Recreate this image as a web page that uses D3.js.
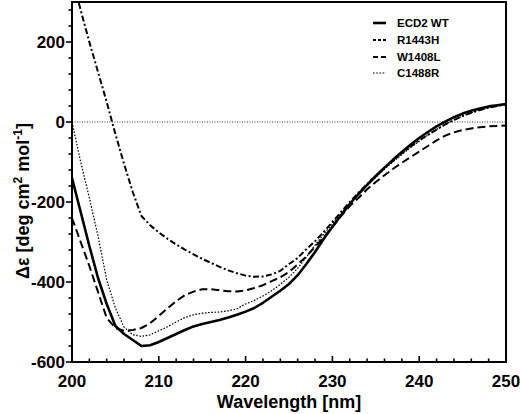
<!DOCTYPE html>
<html><head><meta charset="utf-8">
<script src="https://cdn.jsdelivr.net/npm/d3@7"></script>
<style>body{margin:0;background:#fff}svg{display:block}text{font-family:"Liberation Sans",Arial,sans-serif;font-weight:bold;fill:#000}</style>
</head><body><svg id="c" width="520" height="414"></svg>
<script>
const wavelength = d3.range(200, 251);
const wt     = [-140,-225,-310,-390,-455,-510,-530,-545,-560,-558,-550,-540,-530,-520,-511,-505,-500,-495,-489,-482,-474,-465,-452,-437,-422,-405,-383,-355,-325,-292,-262,-233,-205,-180,-157,-135,-114,-94,-75,-57,-40,-25,-11,1,12,21,28,34,39,42,45];
const r1443h = [360,280,200,125,50,-30,-105,-175,-235,-258,-276,-292,-306,-319,-331,-342,-352,-362,-371,-378,-384,-387,-386,-381,-372,-355,-340,-318,-298,-275,-250,-225,-200,-177,-155,-135,-115,-97,-78,-62,-46,-32,-19,-6,5,15,23,30,36,40,44];
const w1408l = [-240,-300,-360,-425,-490,-515,-522,-520,-515,-503,-485,-466,-448,-433,-424,-418,-418,-421,-423,-424,-421,-415,-408,-398,-388,-375,-356,-336,-312,-288,-263,-235,-210,-190,-168,-150,-133,-117,-102,-88,-74,-60,-46,-34,-26,-20,-16,-13,-11,-10,-9];
const c1488r = [0,-100,-190,-285,-395,-465,-513,-532,-536,-532,-522,-512,-500,-489,-482,-478,-476,-475,-472,-467,-455,-446,-435,-422,-406,-388,-366,-338,-308,-280,-254,-228,-204,-181,-159,-138,-118,-99,-81,-64,-48,-33,-19,-6,5,15,23,30,36,40,44];
const seriesNames = ["ECD2 WT","R1443H","W1408L","C1488R"];
const seriesData = [wt, r1443h, w1408l, c1488r];
const xTicks = [200,210,220,230,240,250];
const yTicks = [-600,-400,-200,0,200];
const xTitle = "Wavelength [nm]";

const styles = [
  {w:2.6, dash:null},
  {w:2, dash:"6,2.5,2,2.5"},
  {w:2, dash:"8,4"},
  {w:1.2, dash:"1.6,1.6"}
];

const svg = d3.select("#c");
const L=72, R=506, T=2, B=362;
const x = d3.scaleLinear().domain([200,250]).range([L,R]);
const y = d3.scaleLinear().domain([-600,300]).range([B,T]);

svg.append("defs").append("clipPath").attr("id","clip")
  .append("rect").attr("x",L).attr("y",T).attr("width",R-L).attr("height",B-T);

// zero line
svg.append("line").attr("x1",L).attr("x2",R).attr("y1",y(0)).attr("y2",y(0))
  .attr("stroke","#000").attr("stroke-width",0.8).attr("stroke-dasharray","1,1.5");

const line = d3.line().x((d,i)=>x(wavelength[i])).y(d=>y(d));
const g = svg.append("g").attr("clip-path","url(#clip)");
seriesData.forEach((s,k)=>{
  g.append("path").attr("d",line(s)).attr("fill","none").attr("stroke","#000")
    .attr("stroke-width",styles[k].w).attr("stroke-dasharray",styles[k].dash)
    .attr("stroke-linejoin","round");
});

// box
svg.append("rect").attr("x",L).attr("y",T).attr("width",R-L).attr("height",B-T)
  .attr("fill","none").attr("stroke","#000").attr("stroke-width",2);

// x axis ticks (inward)
const xMinor = d3.range(200,251,2);
const xa = svg.append("g");
xMinor.forEach(v=>{
  const major = xTicks.includes(v);
  xa.append("line").attr("x1",x(v)).attr("x2",x(v)).attr("y1",B).attr("y2",B-(major?6:3.5))
    .attr("stroke","#000").attr("stroke-width",1.6);
});
xTicks.forEach(v=>{
  xa.append("text").attr("x",x(v)).attr("y",387).attr("text-anchor","middle")
    .style("font-size","17px").text(v);
});
// y axis ticks (outward)
const yMinor = d3.range(-600,301,40);
yMinor.forEach(v=>{
  const major = yTicks.includes(v);
  svg.append("line").attr("x1",L).attr("x2",L-(major?6:3.5)).attr("y1",y(v)).attr("y2",y(v))
    .attr("stroke","#000").attr("stroke-width",1.6);
});
yTicks.forEach(v=>{
  svg.append("text").attr("x",65).attr("y",y(v)+6).attr("text-anchor","end")
    .style("font-size","17px").text(v);
});

// axis titles
svg.append("text").attr("x",(L+R)/2).attr("y",408).attr("text-anchor","middle")
  .style("font-size","18px").text(xTitle);
const yt = svg.append("text").attr("transform","translate(29,201) rotate(-90)")
  .attr("text-anchor","middle").style("font-size","18px");
yt.append("tspan").text("Δε [deg cm");
yt.append("tspan").attr("dy",-7).style("font-size","12px").text("2");
yt.append("tspan").attr("dy",7).text(" mol");
yt.append("tspan").attr("dy",-7).style("font-size","12px").text("-1");
yt.append("tspan").attr("dy",7).text("]");

// legend
const legY = [23,40,57,73];
seriesNames.forEach((n,k)=>{
  svg.append("line").attr("x1",373).attr("x2",386).attr("y1",legY[k]).attr("y2",legY[k])
    .attr("stroke","#000").attr("stroke-width",styles[k].w)
    .attr("stroke-dasharray",k===1?"3,2":(k===2?"5,3":styles[k].dash));
  svg.append("text").attr("x",397).attr("y",legY[k]+4).style("font-size","11.5px").text(n);
});
</script></body></html>
